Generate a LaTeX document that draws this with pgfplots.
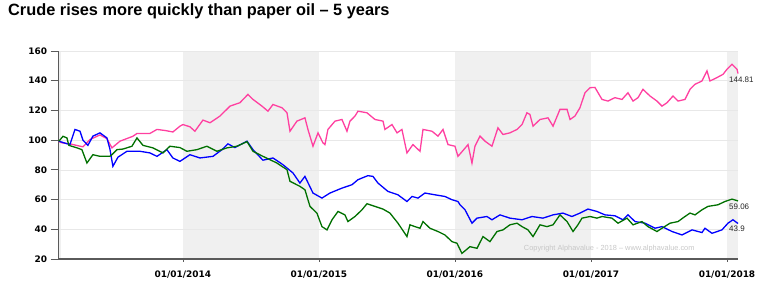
\documentclass[border=0pt]{standalone}
\usepackage{pgfplots}
\pgfplotsset{compat=1.18}
\usepackage{fontspec}
\setmainfont{Liberation Sans}
\newfontfamily\dejavu{DejaVu Sans}
\definecolor{cpink}{RGB}{255,64,160}
\definecolor{cblue}{RGB}{0,0,255}
\definecolor{cgreen}{RGB}{0,112,0}
\definecolor{band}{RGB}{240,240,240}
\definecolor{gridc}{RGB}{232,232,232}
\definecolor{axc}{RGB}{90,90,90}
\begin{document}
\begin{tikzpicture}
\node[anchor=base west, inner sep=0pt, font=\bfseries\fontsize{16.4}{17}\selectfont] at (8bp,276.5bp) {Crude rises more quickly than paper oil -- 5 years};
\begin{axis}[
  set layers,
  scale only axis,
  width=679.5bp, height=208bp,
  at={(58.5bp,33bp)}, anchor=south west,
  xmin=2013.085, xmax=2018.081,
  ymin=20, ymax=160,
  ytick={20,40,...,160},
  xtick={2014,2015,2016,2017,2018},
  xticklabels={01/01/2014,01/01/2015,01/01/2016,01/01/2017,01/01/2018},
  axis x line=bottom, axis y line=left,
  axis line style={-, axc, line width=1.6bp},
  tick align=outside,
  ytick style={axc, line width=0.8bp},
  xtick style={axc, line width=0.8bp},
  major tick length=8bp,
  x tick style={/pgfplots/major tick length=3bp},
  ymajorgrids, major grid style={gridc, line width=0.7bp},
  /pgf/number format/assume math mode=true,
  tick label style={font=\dejavu\bfseries\fontsize{9}{9}\selectfont},
  clip=false,
]
\begin{pgfonlayer}{axis background}
\fill[band] (axis cs:2014,20) rectangle (axis cs:2015,160);
\fill[band] (axis cs:2016,20) rectangle (axis cs:2017,160);
\fill[band] (axis cs:2018,20) rectangle (axis cs:2018.081,160);
\fill[band] (axis cs:2013.085,20) rectangle (axis cs:2013.105,160);
\end{pgfonlayer}
\addplot[cpink, line width=1.3bp] table {
2013.088 99.0
2013.110 98.2
2013.169 97.5
2013.221 96.4
2013.265 95.5
2013.316 100.4
2013.390 103.5
2013.441 101.0
2013.478 94.8
2013.537 99.3
2013.632 102.6
2013.662 104.5
2013.757 104.5
2013.809 107.2
2013.868 106.5
2013.926 105.5
2013.978 109.4
2014.000 110.5
2014.051 109.0
2014.088 106.0
2014.147 113.5
2014.199 111.7
2014.272 116.2
2014.346 122.9
2014.419 125.2
2014.478 130.8
2014.515 127.4
2014.581 122.9
2014.625 119.5
2014.662 124.0
2014.728 121.8
2014.765 118.4
2014.787 106.0
2014.838 112.8
2014.897 115.0
2014.919 107.2
2014.956 95.9
2014.993 104.9
2015.029 98.2
2015.044 97.0
2015.066 107.2
2015.118 112.8
2015.169 113.9
2015.206 106.0
2015.228 112.8
2015.265 116.2
2015.287 119.5
2015.353 118.4
2015.412 113.9
2015.471 112.8
2015.485 107.2
2015.537 110.5
2015.574 104.9
2015.610 107.2
2015.647 91.4
2015.691 97.0
2015.743 92.5
2015.765 107.2
2015.831 106.0
2015.875 102.7
2015.912 107.2
2015.949 97.0
2016.000 95.9
2016.022 89.1
2016.059 93.0
2016.096 97.0
2016.125 84.6
2016.147 95.9
2016.184 102.7
2016.221 99.3
2016.272 95.9
2016.316 108.3
2016.353 103.8
2016.404 104.9
2016.456 107.2
2016.493 110.5
2016.529 118.4
2016.551 117.3
2016.574 109.4
2016.625 113.9
2016.684 115.0
2016.721 109.4
2016.772 120.7
2016.824 120.7
2016.846 113.9
2016.882 116.2
2016.919 121.8
2016.956 131.9
2016.993 135.3
2017.029 135.5
2017.081 127.4
2017.125 126.3
2017.176 128.6
2017.228 127.4
2017.272 131.9
2017.309 126.3
2017.346 128.6
2017.382 134.2
2017.434 129.7
2017.485 126.3
2017.522 122.9
2017.559 125.2
2017.603 129.7
2017.640 126.3
2017.691 127.4
2017.728 134.2
2017.765 137.6
2017.816 139.8
2017.853 146.6
2017.875 139.8
2017.926 142.1
2017.971 144.3
2018.000 147.7
2018.037 151.1
2018.074 147.7
2018.081 144.8
};
\addplot[cblue, line width=1.3bp] table {
2013.088 99.3
2013.132 98.0
2013.169 97.0
2013.206 107.2
2013.243 106.0
2013.265 100.0
2013.301 96.5
2013.338 102.7
2013.390 104.9
2013.441 101.5
2013.463 94.0
2013.485 82.4
2013.522 88.5
2013.588 92.5
2013.684 92.5
2013.757 91.4
2013.809 89.1
2013.882 93.6
2013.926 88.0
2013.978 85.7
2014.051 90.2
2014.125 88.0
2014.221 89.1
2014.287 93.6
2014.331 97.5
2014.382 95.0
2014.471 99.3
2014.515 93.6
2014.588 86.5
2014.662 88.0
2014.735 83.5
2014.809 77.9
2014.860 71.1
2014.897 75.6
2014.956 64.4
2015.022 61.0
2015.081 64.4
2015.169 67.7
2015.243 70.0
2015.287 73.4
2015.360 76.1
2015.397 75.6
2015.434 71.1
2015.507 65.5
2015.581 63.2
2015.647 58.7
2015.684 62.1
2015.728 61.0
2015.779 64.4
2015.853 63.2
2015.926 62.1
2015.978 59.9
2016.022 58.7
2016.037 56.5
2016.074 53.1
2016.125 44.1
2016.162 47.5
2016.235 48.6
2016.272 46.4
2016.331 49.7
2016.404 47.5
2016.493 46.4
2016.566 48.6
2016.647 47.5
2016.721 49.7
2016.794 50.9
2016.860 48.6
2016.919 50.9
2016.978 53.6
2017.044 52.0
2017.103 49.7
2017.176 49.1
2017.235 46.4
2017.272 49.7
2017.324 45.2
2017.397 44.1
2017.471 40.7
2017.522 41.8
2017.596 38.5
2017.669 36.2
2017.743 39.6
2017.816 37.8
2017.838 40.7
2017.890 37.3
2017.963 39.6
2018.007 44.1
2018.044 46.4
2018.081 43.9
};
\addplot[cgreen, line width=1.3bp] table {
2013.088 99.3
2013.118 102.6
2013.147 101.5
2013.161 96.5
2013.221 94.8
2013.257 93.6
2013.294 84.6
2013.338 90.2
2013.390 89.1
2013.463 89.1
2013.478 90.2
2013.515 93.6
2013.559 94.0
2013.625 95.9
2013.662 101.5
2013.706 96.5
2013.779 94.8
2013.853 91.4
2013.904 95.9
2013.978 95.0
2014.029 92.5
2014.103 93.6
2014.176 95.9
2014.250 92.5
2014.324 94.8
2014.397 95.9
2014.471 99.0
2014.515 92.5
2014.588 89.1
2014.691 84.6
2014.765 80.1
2014.787 72.3
2014.860 68.9
2014.897 66.6
2014.934 55.4
2014.985 50.9
2015.022 41.8
2015.059 39.6
2015.096 46.4
2015.140 52.0
2015.191 49.7
2015.213 45.2
2015.265 48.6
2015.316 53.1
2015.353 57.2
2015.412 55.4
2015.471 53.6
2015.522 50.9
2015.581 44.1
2015.647 35.1
2015.669 43.0
2015.706 41.8
2015.743 40.7
2015.765 45.2
2015.816 40.7
2015.875 38.5
2015.926 36.2
2015.978 31.7
2016.015 30.6
2016.051 23.8
2016.074 25.5
2016.110 28.3
2016.162 27.2
2016.206 35.1
2016.257 31.7
2016.309 38.5
2016.353 39.6
2016.404 43.0
2016.456 44.1
2016.493 41.8
2016.537 39.6
2016.574 35.1
2016.625 43.0
2016.676 41.8
2016.721 43.0
2016.772 49.7
2016.824 45.2
2016.868 38.5
2016.904 43.0
2016.934 47.5
2016.993 48.6
2017.044 47.5
2017.081 48.6
2017.154 47.5
2017.199 44.1
2017.265 47.5
2017.309 43.0
2017.375 45.2
2017.419 41.8
2017.485 38.5
2017.522 40.7
2017.581 44.1
2017.640 45.2
2017.691 48.6
2017.728 50.9
2017.765 49.7
2017.816 53.1
2017.860 55.4
2017.934 56.5
2017.985 58.7
2018.037 60.3
2018.081 59.1
};
\node[anchor=west, inner sep=0pt, font=\fontsize{8}{8}\selectfont, text=black!85] at (axis cs:2018.015,144.81) [yshift=-6bp] {144.81};
\node[anchor=west, inner sep=0pt, font=\fontsize{8}{8}\selectfont, text=black!85] at (axis cs:2018.015,59.06) [yshift=-6bp] {59.06};
\node[anchor=west, inner sep=0pt, font=\fontsize{8}{8}\selectfont, text=black!85] at (axis cs:2018.015,43.9) [yshift=-5bp] {43.9};
\node[anchor=west, inner sep=0pt, font=\fontsize{7.4}{8}\selectfont, text=black!22] at (axis cs:2016.506,26.8) {Copyright Alphavalue - 2018 -- www.alphavalue.com};
\end{axis}
\pgfresetboundingbox
\path[use as bounding box] (0,0) rectangle (770bp,292bp);
\end{tikzpicture}
\end{document}
